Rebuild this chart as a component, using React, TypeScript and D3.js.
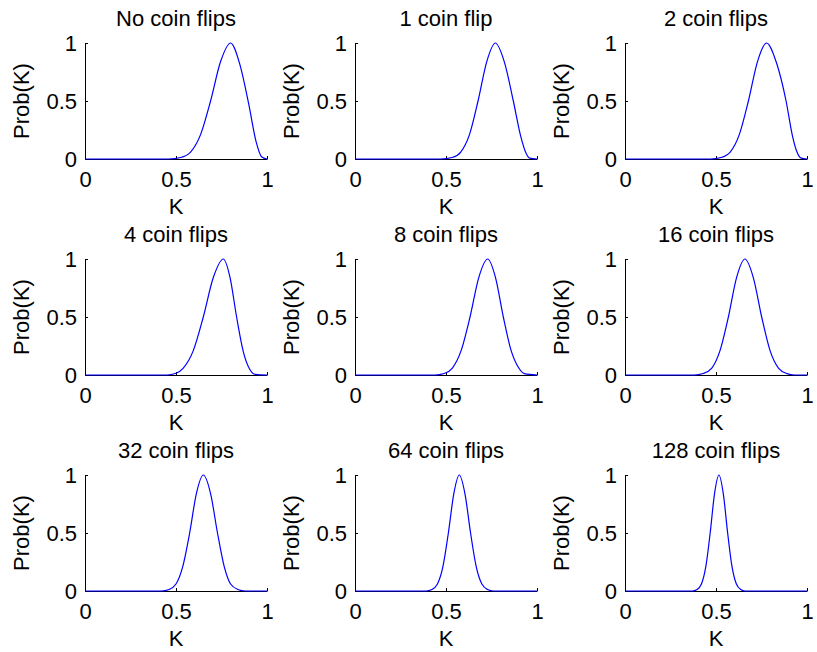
import React, { useRef, useEffect } from 'react'
import { select, scaleLinear, line, axisLeft, axisBottom, curveMonotoneX } from 'd3'

// panel titles, row by row
const titles = [
  'No coin flips', '1 coin flip', '2 coin flips',
  '4 coin flips', '8 coin flips', '16 coin flips',
  '32 coin flips', '64 coin flips', '128 coin flips',
]

// K samples and Prob(K)
const kFlips0 = [0, 0.46, 0.525, 0.58, 0.635, 0.69, 0.745, 0.8, 0.85, 0.9, 0.94, 0.97, 1]
const pFlips0 = [0, 0, 0.013, 0.06, 0.21, 0.5, 0.84, 1, 0.82, 0.47, 0.15, 0.02, 0]

const kFlips1 = [0, 0.47, 0.534, 0.581, 0.629, 0.676, 0.724, 0.771, 0.82, 0.87, 0.91, 0.94, 0.96, 1]
const pFlips1 = [0, 0, 0.013, 0.06, 0.21, 0.5, 0.84, 1, 0.84, 0.5, 0.2, 0.05, 0.008, 0]

const kFlips2 = [0, 0.47, 0.528, 0.578, 0.628, 0.678, 0.728, 0.778, 0.83, 0.885, 0.92, 0.945, 0.965, 1]
const pFlips2 = [0, 0, 0.013, 0.06, 0.21, 0.5, 0.84, 1, 0.84, 0.5, 0.2, 0.06, 0.01, 0]

const kFlips4 = [0, 0.45, 0.5, 0.54, 0.595, 0.65, 0.705, 0.76, 0.797, 0.833, 0.87, 0.905, 0.935, 1]
const pFlips4 = [0, 0, 0.015, 0.06, 0.21, 0.5, 0.84, 1, 0.84, 0.5, 0.2, 0.05, 0.006, 0]

const kFlips8 = [0, 0.44, 0.49, 0.535, 0.583, 0.632, 0.68, 0.729, 0.772, 0.815, 0.858, 0.9, 0.93, 1]
const pFlips8 = [0, 0, 0.013, 0.06, 0.21, 0.5, 0.84, 1, 0.84, 0.5, 0.21, 0.06, 0.012, 0]

const kFlips16 = [0, 0.38, 0.43, 0.477, 0.522, 0.568, 0.613, 0.659, 0.705, 0.751, 0.797, 0.843, 0.89, 0.93, 1]
const pFlips16 = [0, 0, 0.013, 0.06, 0.21, 0.5, 0.84, 1, 0.84, 0.5, 0.21, 0.06, 0.012, 0, 0]

const kFlips32 = [0, 0.42, 0.462, 0.5, 0.537, 0.575, 0.612, 0.65, 0.69, 0.728, 0.765, 0.8, 0.84, 0.88, 1]
const pFlips32 = [0, 0, 0.013, 0.06, 0.21, 0.5, 0.84, 1, 0.84, 0.5, 0.21, 0.06, 0.013, 0, 0]

const kFlips64 = [0, 0.39, 0.423, 0.453, 0.483, 0.513, 0.543, 0.573, 0.604, 0.635, 0.666, 0.697, 0.728, 0.76, 1]
const pFlips64 = [0, 0, 0.013, 0.06, 0.21, 0.5, 0.84, 1, 0.84, 0.5, 0.21, 0.06, 0.013, 0, 0]

const kFlips128 = [0, 0.37, 0.396, 0.42, 0.444, 0.468, 0.492, 0.516, 0.54, 0.564, 0.588, 0.612, 0.636, 0.66, 1]
const pFlips128 = [0, 0, 0.013, 0.06, 0.21, 0.5, 0.84, 1, 0.84, 0.5, 0.21, 0.06, 0.013, 0, 0]

const kSeries = [kFlips0, kFlips1, kFlips2, kFlips4, kFlips8, kFlips16, kFlips32, kFlips64, kFlips128]
const pSeries = [pFlips0, pFlips1, pFlips2, pFlips4, pFlips8, pFlips16, pFlips32, pFlips64, pFlips128]

const xTicks = [0, 0.5, 1]
const yTicks = [0, 0.5, 1]

const App = () => {
  const svgRef = useRef<SVGSVGElement>(null)

  useEffect(() => {
    if (!svgRef.current) return
    const svg = select(svgRef.current)
    svg.selectAll('*').remove()

    const width = 817
    const height = 652
    const colLeft = [85, 355, 625]
    const rowTop = [43, 259, 475]
    const axW = 182
    const axH = 116
    const font = 'Liberation Sans, Arial, Helvetica, sans-serif'
    const fs = 22

    svg.attr('width', width).attr('height', height)
    svg.append('rect').attr('width', width).attr('height', height).attr('fill', '#fff')

    titles.forEach((title, i) => {
      const left = colLeft[i % 3]
      const top = rowTop[Math.floor(i / 3)]
      const x = scaleLinear().domain([0, 1]).range([left, left + axW])
      const y = scaleLinear().domain([0, 1]).range([top + axH, top])

      const g = svg.append('g')

      // x axis
      const gx = g.append('g')
        .attr('transform', `translate(0,${top + axH})`)
        .call(axisBottom(x).tickValues(xTicks).tickFormat((d: any) => String(d))
          .tickSizeInner(-3).tickSizeOuter(0).tickPadding(12))
      // y axis
      const gy = g.append('g')
        .attr('transform', `translate(${left},0)`)
        .call(axisLeft(y).tickValues(yTicks).tickFormat((d: any) => String(d))
          .tickSizeInner(-3).tickSizeOuter(0).tickPadding(8))

      ;[gx, gy].forEach(a => {
        a.select('.domain').attr('stroke', '#000')
        a.selectAll('.tick line').attr('stroke', '#000')
        a.selectAll('.tick text')
          .attr('fill', '#000')
          .attr('font-family', font)
          .attr('font-size', fs)
      })

      // curve
      const pts = kSeries[i].map((k, j) => [k, pSeries[i][j]] as [number, number])
      const path = line<[number, number]>()
        .x(d => x(d[0]))
        .y(d => y(d[1]))
        .curve(curveMonotoneX)
      g.append('path')
        .attr('d', path(pts))
        .attr('fill', 'none')
        .attr('stroke', '#0000ff')
        .attr('stroke-width', 1.2)

      // title
      g.append('text')
        .attr('x', left + axW / 2)
        .attr('y', top - 17)
        .attr('text-anchor', 'middle')
        .attr('font-family', font)
        .attr('font-size', fs)
        .text(title)

      // x label
      g.append('text')
        .attr('x', left + axW / 2)
        .attr('y', top + axH + 55)
        .attr('text-anchor', 'middle')
        .attr('font-family', font)
        .attr('font-size', fs)
        .text('K')

      // y label
      g.append('text')
        .attr('transform', `translate(${left - 56},${top + axH / 2}) rotate(-90)`)
        .attr('text-anchor', 'middle')
        .attr('font-family', font)
        .attr('font-size', fs)
        .text('Prob(K)')
    })
  }, [])

  return (
    <svg ref={svgRef} style={{ position: 'absolute', left: 0, top: 0 }} />
  )
}

export default App
